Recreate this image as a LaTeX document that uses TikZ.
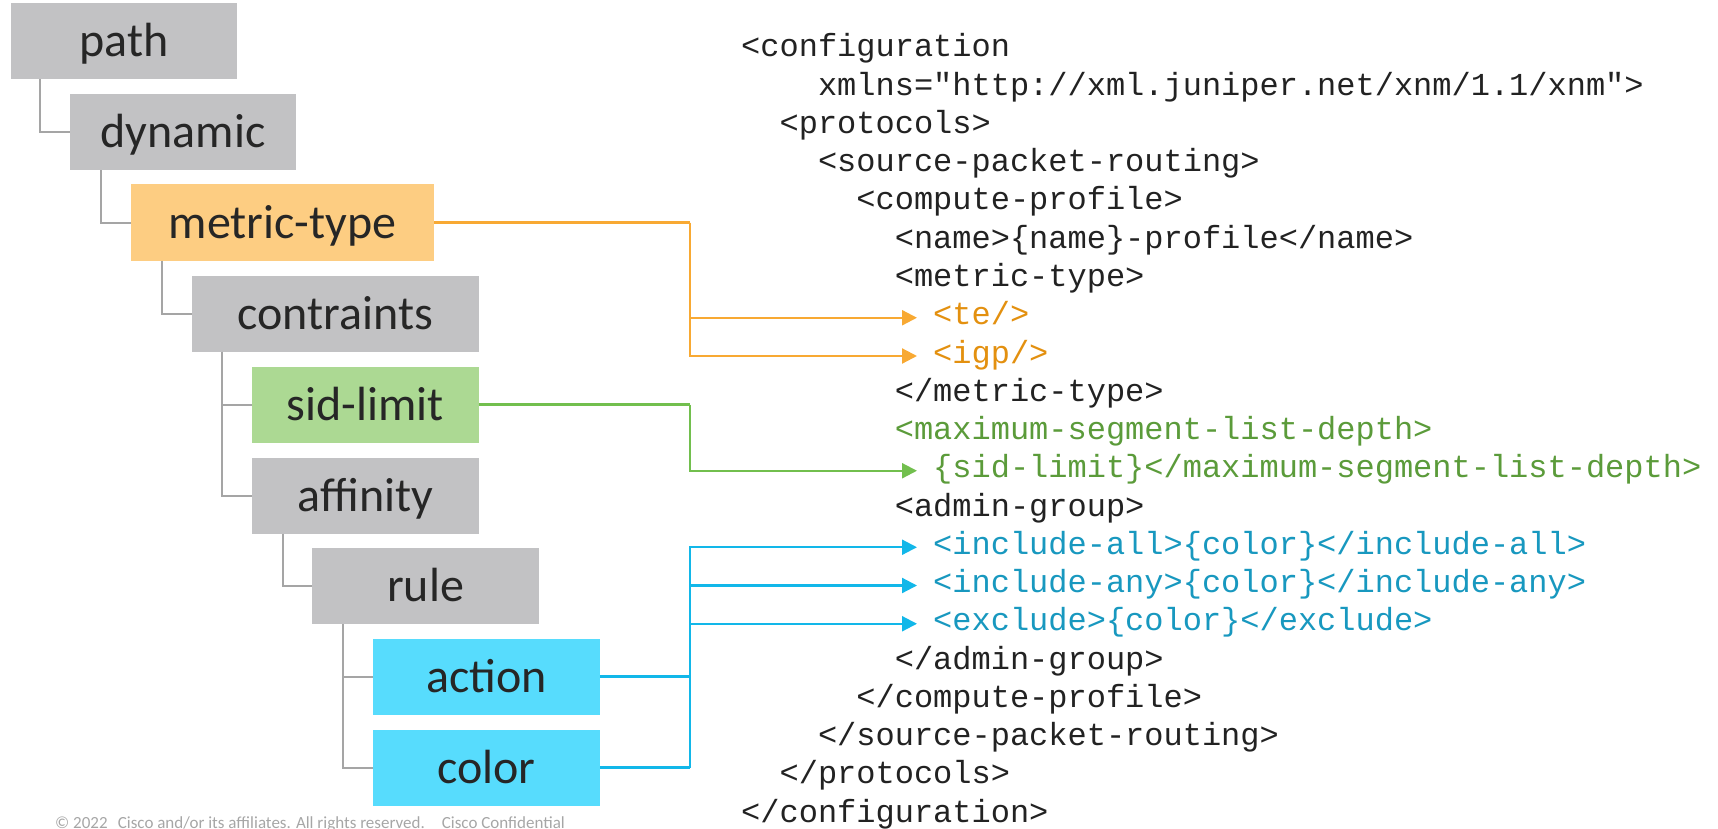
\documentclass[tikz,border=0pt]{standalone}
\usepackage{fontspec}
\setmainfont{Carlito}
\newfontfamily\codefont{Liberation Mono}
\usetikzlibrary{arrows.meta,calc}

\definecolor{boxgray}{HTML}{C2C2C4}
\definecolor{boxtext}{HTML}{262626}
\definecolor{treegray}{HTML}{A5A5A5}
\definecolor{orgbox}{HTML}{FDCD82}
\definecolor{orgline}{HTML}{F8A933}
\definecolor{orgtext}{HTML}{E3900F}
\definecolor{grnbox}{HTML}{ACD993}
\definecolor{grnline}{HTML}{72BF4E}
\definecolor{grntext}{HTML}{5B9B3A}
\definecolor{cyanbox}{HTML}{57DCFD}
\definecolor{bluline}{HTML}{12B7E9}
\definecolor{blutext}{HTML}{1898BF}
\definecolor{codetext}{HTML}{222222}
\definecolor{foottext}{HTML}{A6A6A6}

\tikzset{
  tbox/.style={rectangle, inner sep=0pt, minimum height=76pt,
    text height=31pt, text depth=0pt, text=boxtext,
    font=\fontsize{48}{48}\selectfont},
  graybox/.style={tbox, fill=boxgray},
  codeline/.style={anchor=base west, inner sep=0pt, text height=14pt,
    text depth=0pt, text=codetext, font=\codefont\fontsize{32}{32}\selectfont},
  tree/.style={draw=treegray, line width=2pt},
  link/.style={line width=2.2pt},
  tip/.style={-{Triangle[length=15pt,width=15pt]}, shorten >=16pt},
}

\newcommand{\cx}[1]{741+19.2*#1}
\newcommand{\cy}[1]{57+38.25*#1}

\begin{document}
\begin{tikzpicture}[x=1pt,y=-1pt]
\useasboundingbox (0,0) rectangle (1718,829);

% tree of configuration nodes
\node[graybox, minimum width=226pt] (path)   at (124,41)     {path};
\node[graybox, minimum width=226pt] (dyn)    at (183,132)    {dynamic};
\node[tbox, fill=orgbox, minimum width=303pt] (mt) at (282.5,222.5) {metric-type};
\node[graybox, minimum width=287pt] (cons)   at (335.5,313.5) {contraints};
\node[tbox, fill=grnbox, minimum width=227pt] (sid) at (365.5,404.5) {sid-limit};
\node[graybox, minimum width=227pt] (aff)    at (365.5,495.5) {affinity};
\node[graybox, minimum width=227pt] (rule)   at (425.5,586)   {rule};
\node[tbox, fill=cyanbox, minimum width=227pt] (act) at (486.5,676.5) {action};
\node[tbox, fill=cyanbox, minimum width=227pt] (col) at (486.5,767.5) {color};

% tree connectors
\draw[tree] ($(path.south west)+(29,0)$) |- (dyn.west);
\draw[tree] ($(dyn.south west)+(31,0)$) |- (mt.west);
\draw[tree] ($(mt.south west)+(31,0)$) |- (cons.west);
\draw[tree] ($(cons.south west)+(30,0)$) |- (sid.west);
\draw[tree] ($(cons.south west)+(30,0)$) |- (aff.west);
\draw[tree] ($(aff.south west)+(31,0)$) |- (rule.west);
\draw[tree] ($(rule.south west)+(31,0)$) |- (act.west);
\draw[tree] ($(rule.south west)+(31,0)$) |- (col.west);

% XML listing
\node[codeline] (l0)  at (\cx{0},\cy{0})   {<configuration};
\node[codeline] (l1)  at (\cx{4},\cy{1})   {xmlns="http://xml.juniper.net/xnm/1.1/xnm">};
\node[codeline] (l2)  at (\cx{2},\cy{2})   {<protocols>};
\node[codeline] (l3)  at (\cx{4},\cy{3})   {<source-packet-routing>};
\node[codeline] (l4)  at (\cx{6},\cy{4})   {<compute-profile>};
\node[codeline] (l5)  at (\cx{8},\cy{5})   {<name>\{name\}-profile</name>};
\node[codeline] (l6)  at (\cx{8},\cy{6})   {<metric-type>};
\node[codeline, text=orgtext] (te)  at (\cx{10},\cy{7}) {<te/>};
\node[codeline, text=orgtext] (igp) at (\cx{10},\cy{8}) {<igp/>};
\node[codeline] (l9)  at (\cx{8},\cy{9})   {</metric-type>};
\node[codeline, text=grntext] (msd)  at (\cx{8},\cy{10})  {<maximum-segment-list-depth>};
\node[codeline, text=grntext] (msdv) at (\cx{10},\cy{11}) {\{sid-limit\}</maximum-segment-list-depth>};
\node[codeline] (l12) at (\cx{8},\cy{12})  {<admin-group>};
\node[codeline, text=blutext] (iall) at (\cx{10},\cy{13}) {<include-all>\{color\}</include-all>};
\node[codeline, text=blutext] (iany) at (\cx{10},\cy{14}) {<include-any>\{color\}</include-any>};
\node[codeline, text=blutext] (excl) at (\cx{10},\cy{15}) {<exclude>\{color\}</exclude>};
\node[codeline] (l16) at (\cx{8},\cy{16})  {</admin-group>};
\node[codeline] (l17) at (\cx{6},\cy{17})  {</compute-profile>};
\node[codeline] (l18) at (\cx{4},\cy{18})  {</source-packet-routing>};
\node[codeline] (l19) at (\cx{2},\cy{19})  {</protocols>};
\node[codeline] (l20) at (\cx{0},\cy{20})  {</configuration>};

% junction points of the mapping lines
\coordinate (oj) at (690,222.5);
\coordinate (gj) at (690,404.5);
\coordinate (bj) at (690,767.5);

% metric-type -> te / igp
\draw[link, orgline] (mt.east) -- (oj);
\draw[link, orgline, tip] (oj) |- (te.west);
\draw[link, orgline, tip] (oj) |- (igp.west);

% sid-limit -> maximum-segment-list-depth
\draw[link, grnline] (sid.east) -- (gj);
\draw[link, grnline, tip] (gj) |- (msdv.west);

% action / color -> admin-group entries
\draw[link, bluline] (act.east) -- (act.east -| bj);
\draw[link, bluline] (col.east) -- (bj);
\draw[link, bluline, tip] (bj) |- (iall.west);
\draw[link, bluline, tip] (bj) |- (iany.west);
\draw[link, bluline, tip] (bj) |- (excl.west);

% footer
\node[anchor=base west, inner sep=0pt, text=foottext, font=\fontsize{17}{17}\selectfont] (foot) at (55,828)
  {© 2022\hspace{0.6em}Cisco and/or its affiliates. All rights reserved.\hspace{1em}Cisco Confidential};
\end{tikzpicture}
\end{document}
